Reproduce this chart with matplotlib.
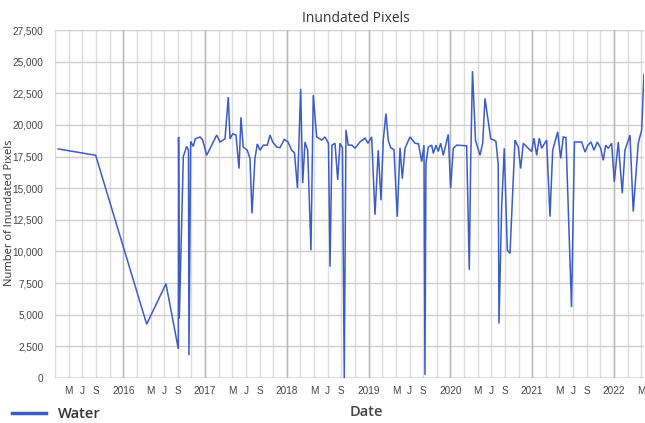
import matplotlib
matplotlib.use("Agg")
import matplotlib.pyplot as plt
import numpy as np

# Observation time (fractional year) and inundated pixel counts for the "Water" class
obs_year = [
    2015.205, 2015.662, 2016.286, 2016.522, 2016.673, 2016.676, 2016.685, 2016.734,
    2016.775, 2016.797, 2016.803, 2016.824, 2016.856, 2016.880, 2016.938, 2016.971,
    2017.020, 2017.081, 2017.142, 2017.182, 2017.244, 2017.284, 2017.305, 2017.338,
    2017.378, 2017.415, 2017.439, 2017.467, 2017.516, 2017.549, 2017.574, 2017.610,
    2017.639, 2017.672, 2017.712, 2017.761, 2017.794, 2017.827, 2017.876, 2017.916,
    2017.969, 2018.014, 2018.059, 2018.093, 2018.130, 2018.169, 2018.194, 2018.222,
    2018.255, 2018.295, 2018.323, 2018.365, 2018.426, 2018.466, 2018.509, 2018.528,
    2018.552, 2018.589, 2018.622, 2018.650, 2018.680, 2018.702, 2018.723, 2018.751,
    2018.797, 2018.833, 2018.894, 2018.956, 2018.992, 2019.037, 2019.078, 2019.118,
    2019.151, 2019.179, 2019.212, 2019.240, 2019.270, 2019.310, 2019.350, 2019.384,
    2019.412, 2019.445, 2019.506, 2019.567, 2019.610, 2019.649, 2019.677, 2019.689,
    2019.701, 2019.730, 2019.771, 2019.791, 2019.824, 2019.852, 2019.881, 2019.913,
    2019.974, 2020.003, 2020.035, 2020.077, 2020.199, 2020.231, 2020.248, 2020.270,
    2020.307, 2020.362, 2020.395, 2020.423, 2020.493, 2020.533, 2020.557, 2020.585,
    2020.594, 2020.627, 2020.659, 2020.696, 2020.729, 2020.790, 2020.830, 2020.859,
    2020.891, 2020.952, 2020.994, 2021.022, 2021.055, 2021.087, 2021.116, 2021.177,
    2021.218, 2021.251, 2021.312, 2021.349, 2021.380, 2021.413, 2021.481, 2021.517,
    2021.605, 2021.646, 2021.682, 2021.719, 2021.756, 2021.796, 2021.838, 2021.869,
    2021.899, 2021.931, 2021.972, 2022.004, 2022.053, 2022.102, 2022.135, 2022.196,
    2022.236, 2022.297, 2022.339, 2022.367,
]
water_pixels = [
    18100, 17600, 4250, 7450, 2300, 19050, 4700, 17500,
    18300, 18000, 1800, 18700, 18300, 18900, 19050, 18800,
    17600, 18400, 19200, 18650, 18900, 22200, 18900, 19300,
    19200, 16550, 20600, 18250, 18000, 17350, 13000, 17350,
    18500, 18000, 18400, 18400, 19200, 18650, 18250, 18200,
    18850, 18650, 18000, 17800, 15000, 22850, 15400, 18650,
    18000, 10100, 22350, 19050, 18800, 19050, 18550, 8800,
    18400, 18550, 15650, 18550, 18200, 0, 19600, 18400,
    18400, 18150, 18650, 18950, 18550, 19050, 12900, 18000,
    14050, 18800, 20900, 18800, 18200, 18050, 12750, 18200,
    15750, 18150, 19050, 18550, 18500, 17100, 18400, 250,
    16950, 18250, 18400, 17750, 18400, 17900, 18550, 17600,
    19250, 15000, 18150, 18400, 18350, 8550, 16950, 24250,
    18800, 17600, 18550, 22100, 18900, 18800, 18700, 16850,
    4300, 13550, 18150, 10100, 9850, 18800, 18250, 16550,
    18550, 18150, 17900, 18950, 17600, 18950, 18150, 18800,
    12750, 18000, 19450, 17350, 19050, 19000, 5600, 18650,
    18650, 17850, 18400, 18650, 18000, 18650, 18150, 17200,
    18400, 18150, 18550, 15500, 18650, 14600, 18000, 19200,
    13150, 18550, 19600, 24000,
]

years = [2016, 2017, 2018, 2019, 2020, 2021, 2022]
month_letters = {3: "M", 5: "M", 7: "J", 9: "S"}
y_ticks = list(range(0, 27501, 2500))

LINE_BLUE = "#3b5cc6"
TEXT_GREY = "#444444"

W, H = 645, 423
fig = plt.figure(figsize=(W / 100, H / 100), dpi=100)
fig.patch.set_facecolor("white")

x0, x1 = 2015.16, 2022.37
left_px, right_px, top_px, bottom_px = 54.6, 644.2, 30, 378
ax = fig.add_axes([left_px / W, 1 - bottom_px / H,
                   (right_px - left_px) / W, (bottom_px - top_px) / H])

# Two-month vertical grid; letters on May/Jul/Sep, years on January
tick_pos, tick_lab = [], []
for yr in range(2015, 2023):
    for m in (1, 3, 5, 7, 9, 11):
        p = yr + (m - 1) / 12
        if x0 - 1e-6 <= p <= x1:
            tick_pos.append(p)
            if m == 1:
                tick_lab.append(str(yr))
            elif m in (5, 7, 9):
                tick_lab.append(month_letters[m])
            else:
                tick_lab.append("")

ax.set_xlim(x0, x1)
ax.set_ylim(0, 27500)
ax.set_xticks(tick_pos)
ax.set_xticklabels(tick_lab)
ax.set_yticks(y_ticks)
ax.set_yticklabels([f"{v:,}" for v in y_ticks])

ax.grid(True, axis="x", color="#dcdcdc", linewidth=1.0)
ax.grid(True, axis="y", color="#cfcfcf", linewidth=1.0)
for yr in years:
    ax.axvline(yr, color="#b5b5b5", linewidth=1.0, zorder=1)
ax.axhline(0, color="#8a8a8a", linewidth=1.0, zorder=2)
ax.set_axisbelow(True)

for s in ax.spines.values():
    s.set_visible(False)

tick_font = "Liberation Sans"
ax.tick_params(axis="both", length=0, colors=TEXT_GREY)
ax.tick_params(axis="x", pad=6)
ax.tick_params(axis="y", pad=8)
for lab in ax.get_xticklabels() + ax.get_yticklabels():
    lab.set_fontsize(7.2)
    lab.set_family(tick_font)
    lab.set_color(TEXT_GREY)

ax.plot(obs_year, water_pixels, color=LINE_BLUE, linewidth=1.1, zorder=3,
        solid_joinstyle="miter")

# Title, axis titles and legend
fig.text(356 / W, 1 - 18 / H, "Inundated Pixels", ha="center", va="center",
         fontsize=10, color="#333333", family="Open Sans")
fig.text(10 / W, 1 - 213 / H, "Number of Inundated Pixels", ha="center",
         va="center", rotation=90, fontsize=8, color="#333333",
         family="Open Sans")
fig.text(366 / W, 1 - 412 / H, "Date", ha="center", va="center",
         fontsize=10.5, color="#444444", family="Open Sans", weight="semibold")
fig.add_artist(plt.Line2D([12 / W, 46 / W], [1 - 413 / H, 1 - 413 / H],
                          color=LINE_BLUE, linewidth=2.5))
fig.text(58 / W, 1 - 414 / H, "Water", ha="left", va="center",
         fontsize=10.5, color="#333333", family="Open Sans", weight="semibold")

fig.savefig("out.png", dpi=100, facecolor="white")
